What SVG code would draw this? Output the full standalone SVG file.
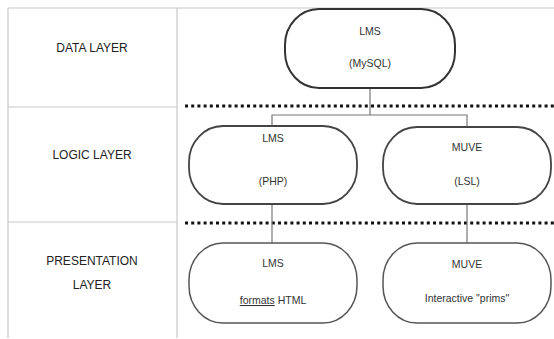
<svg xmlns="http://www.w3.org/2000/svg" width="554" height="339" viewBox="0 0 554 339">
<style>
.grid{stroke:#c8c8c8;stroke-width:1.2;fill:none}
.dot{stroke:#111;stroke-width:3;stroke-dasharray:3 3.2;fill:none}
.node{fill:#fff;stroke:#444;stroke-width:1.8}
.conn{stroke:#777;stroke-width:1.2;fill:none}
.lbl{font-family:"Liberation Sans",Arial,sans-serif;font-size:12px;fill:#222;text-anchor:middle}
.nt{font-family:"Liberation Sans",Arial,sans-serif;font-size:10.5px;fill:#333;text-anchor:middle}
</style>
<rect width="554" height="339" fill="#fff"/>
<g id="grid">
<line class="grid" x1="8" y1="8" x2="554" y2="8"/>
<line class="grid" x1="8" y1="8" x2="8" y2="338"/>
<line class="grid" x1="177" y1="8" x2="177" y2="338"/>
<line class="grid" x1="8" y1="107" x2="177" y2="107"/>
<line class="grid" x1="8" y1="222" x2="177" y2="222"/>
</g>
<g id="layer-labels">
<text class="lbl" x="92" y="52">DATA LAYER</text>
<text class="lbl" x="92" y="159">LOGIC LAYER</text>
<text class="lbl" x="92" y="265">PRESENTATION</text>
<text class="lbl" x="92" y="289">LAYER</text>
</g>
<g id="separators">
<line class="dot" x1="185" y1="106" x2="554" y2="106"/>
<line class="dot" x1="185" y1="223" x2="554" y2="223"/>
</g>
<g id="connectors">
<polyline class="conn" points="370,88 370,115"/>
<polyline class="conn" points="272,126 272,115 467,115 467,127"/>
<line class="conn" x1="272" y1="204" x2="272" y2="243"/>
<line class="conn" x1="467" y1="204" x2="467" y2="243"/>
</g>
<g id="lms-mysql">
<rect class="node" x="285" y="9" width="170" height="79" rx="34" ry="36" style="stroke:#333;stroke-width:2"/>
<text class="nt" x="370" y="35">LMS</text>
<text class="nt" x="370" y="67">(MySQL)</text>
</g>
<g id="lms-php">
<rect class="node" x="189" y="126" width="168" height="78" rx="34" ry="36"/>
<text class="nt" x="273" y="142">LMS</text>
<text class="nt" x="273" y="185">(PHP)</text>
</g>
<g id="muve-lsl">
<rect class="node" x="383" y="127" width="168" height="77" rx="34" ry="36"/>
<text class="nt" x="467" y="151">MUVE</text>
<text class="nt" x="467" y="185">(LSL)</text>
</g>
<g id="lms-html">
<rect class="node" x="189" y="243" width="168" height="80" rx="34" ry="37" style="stroke:#555;stroke-width:1.5"/>
<text class="nt" x="273" y="267">LMS</text>
<text class="nt" x="273" y="304"><tspan text-decoration="underline">formats</tspan> HTML</text>
</g>
<g id="muve-prims">
<rect class="node" x="383" y="243" width="168" height="80" rx="34" ry="37" style="stroke:#555;stroke-width:1.5"/>
<text class="nt" x="467" y="268">MUVE</text>
<text class="nt" x="467" y="302">Interactive "prims"</text>
</g>
</svg>
